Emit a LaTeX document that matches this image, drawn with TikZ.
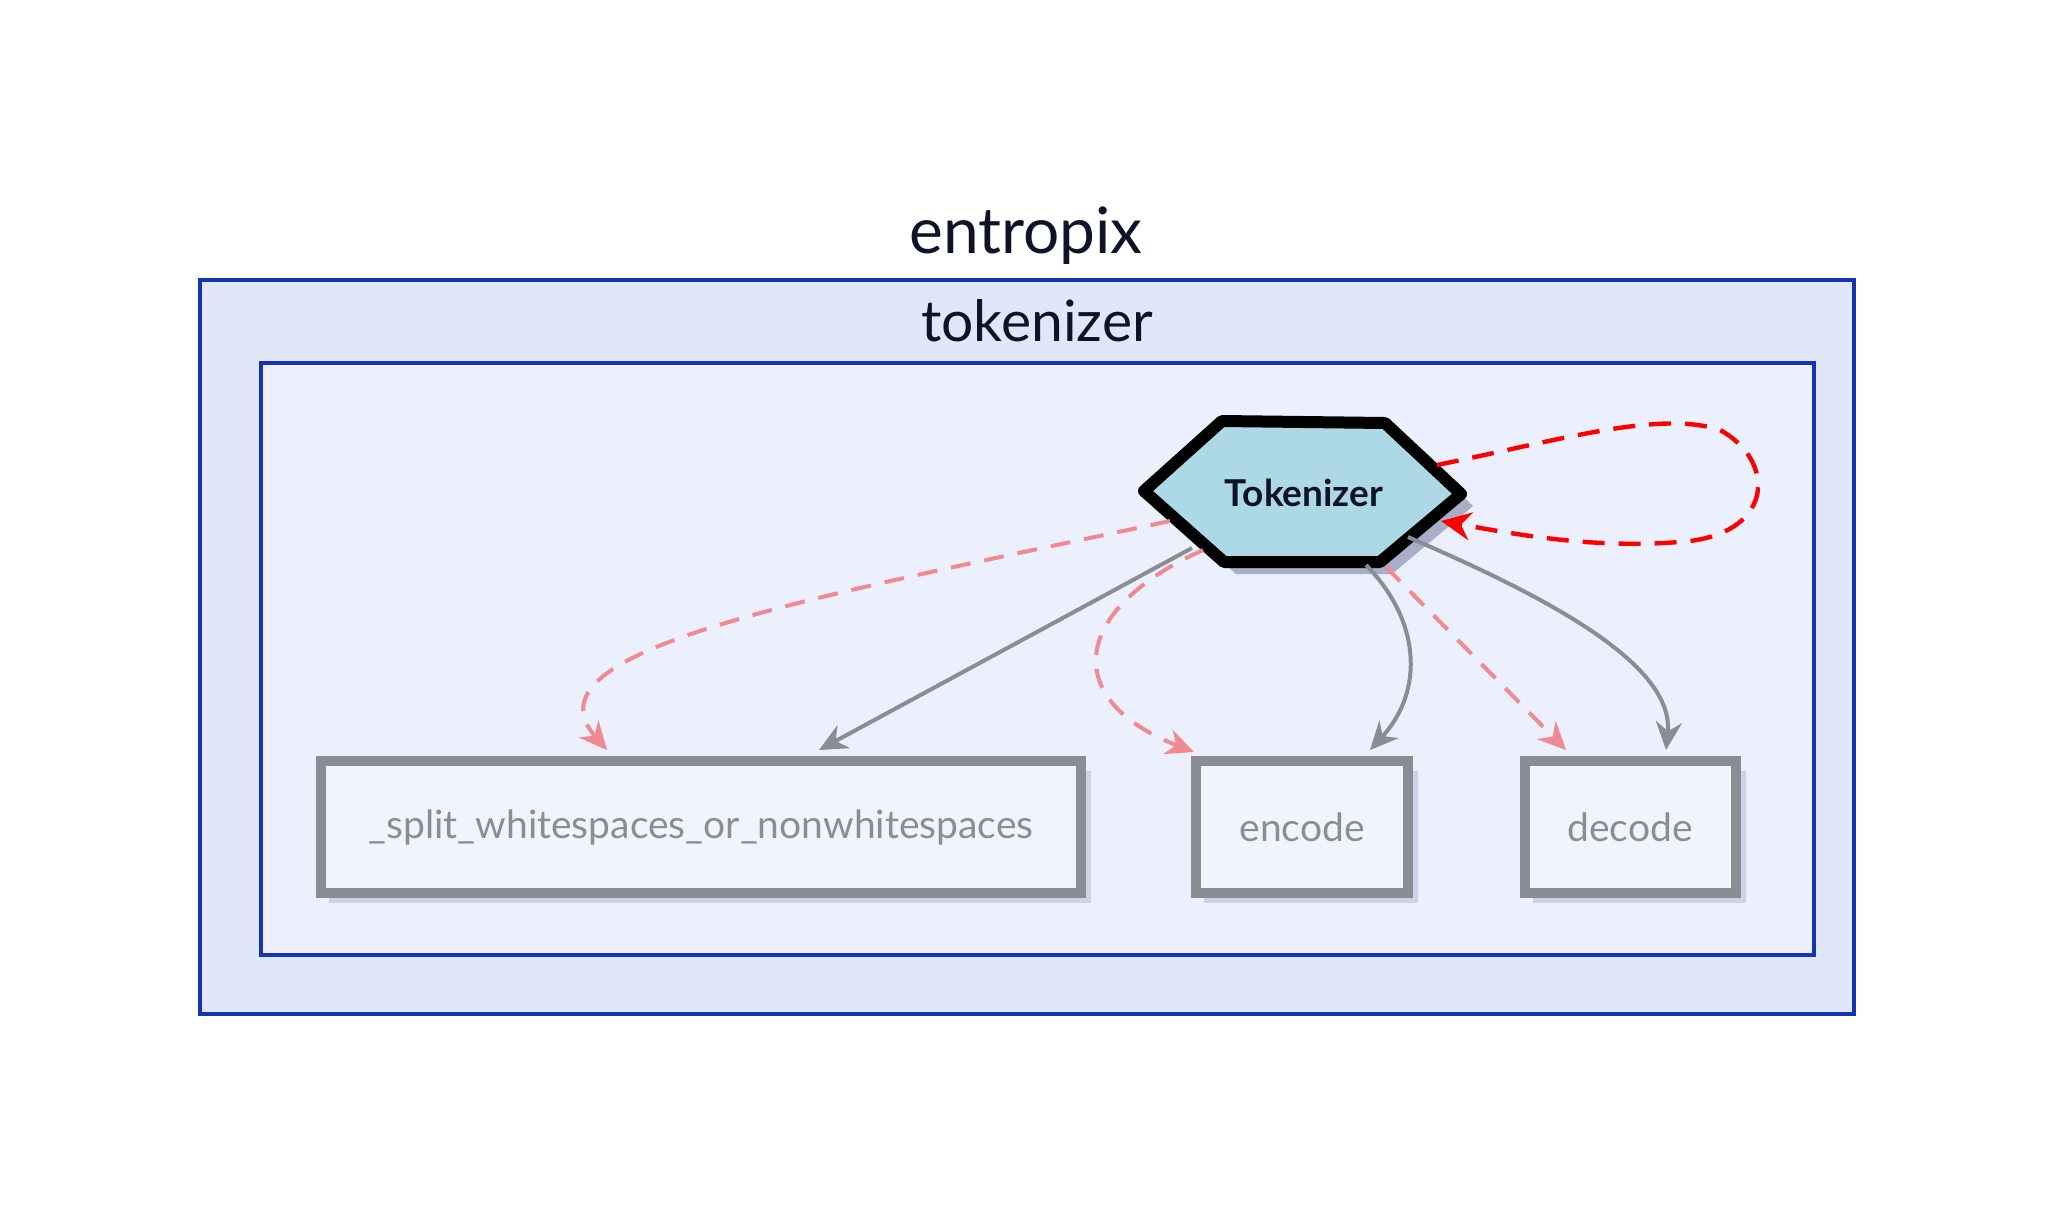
\documentclass[tikz,border=0pt]{standalone}
\usepackage{fontspec}
\setmainfont{Lato}
\usetikzlibrary{arrows.meta}
\definecolor{outerfill}{HTML}{E1E7F9}
\definecolor{innerfill}{HTML}{EBF0FC}
\definecolor{frameblue}{HTML}{1434B4}
\definecolor{hexfill}{HTML}{ADD8E6}
\definecolor{hexshadow}{HTML}{A9ADC8}
\definecolor{boxgrey}{HTML}{8A8D94}
\definecolor{boxfill}{HTML}{F1F4FD}
\definecolor{boxshadow}{HTML}{CDD2E6}
\definecolor{pinkedge}{HTML}{F08A90}
\definecolor{redloop}{HTML}{FF0000}
\definecolor{inkdark}{HTML}{0F1328}
\tikzset{
  x=0.5pt, y=-0.5pt,
  frame/.style={draw=frameblue, line width=2.3pt},
  title/.style={text=inkdark},
  funcbox/.style={draw=boxgrey, fill=boxfill, line width=5pt, text=boxgrey,
    font=\fontsize{19.5}{23}\selectfont, minimum height=66pt, inner sep=0pt},
  boxshade/.style={fill=boxshadow, draw=none},
  greyedge/.style={draw=boxgrey, line width=2pt, -{Stealth[length=14pt,width=13pt]}},
  pinkedge/.style={draw=pinkedge, line width=2pt, dash pattern=on 10pt off 7pt,
    -{Stealth[length=14pt,width=13pt]}},
  rededge/.style={draw=redloop, line width=2.2pt, dash pattern=on 11pt off 7pt,
    -{Stealth[length=15pt,width=14pt]}},
}
\begin{document}
\begin{tikzpicture}
\path[use as bounding box, fill=white] (0,0) rectangle (2054,1216);

% frames
\path[frame, fill=outerfill] (200,280) rectangle (1854,1014);
\path[frame, fill=innerfill] (261,363) rectangle (1814,955);
\node[title, font=\fontsize{32}{38}\selectfont] (entropix) at (1026,236) {entropix};
\node[title, font=\fontsize{28.5}{34}\selectfont] (tokpkg) at (1037,321) {tokenizer};

% box shadows
\fill[boxshade] (329,771) rectangle (1091,903);
\fill[boxshade] (1204,771) rectangle (1418,903);
\fill[boxshade] (1533,771) rectangle (1746,903);

% function boxes
\node[funcbox, minimum width=380pt] (split) at (701,827) {\_split\_whitespaces\_or\_nonwhitespaces};
\node[funcbox, minimum width=106pt] (encode) at (1302,827) {encode};
\node[funcbox, minimum width=105.5pt] (decode) at (1630,827) {decode};

% hexagon
\fill[hexshadow] (1156,503)--(1234,433)--(1397,435)--(1473,506)--(1392,574)--(1236,574)--cycle;
\draw[fill=hexfill, line width=6pt, line join=round] (1144,491)--(1222,421)--(1385,423)--(1461,494)--(1380,562)--(1224,562)--cycle;
\node[text=inkdark, font=\bfseries\fontsize{18.5}{22}\selectfont] (tok) at (1304,493) {Tokenizer};

% anchor points on the hexagon border
\coordinate (h1) at (1192,548);
\coordinate (h2) at (1366,565);
\coordinate (h3) at (1408,537);
\coordinate (p1) at (1170,521);
\coordinate (p2) at (1203,550);
\coordinate (p3) at (1386,567);
\coordinate (r1) at (1437,465);
\coordinate (r2) at (1441,521);

% grey solid edges
\draw[greyedge] (h1) -- ([xshift=59pt,yshift=3pt]split.north);
\draw[greyedge] (h2) .. controls (1420,620) and (1425,690) .. ([xshift=34pt,yshift=3pt]encode.north);
\draw[greyedge] (h3) .. controls (1530,590) and (1675,660) .. ([xshift=18pt,yshift=3pt]decode.north);

% pink dashed edges
\draw[pinkedge] (p1) .. controls (800,600) and (520,650) .. ([xshift=-47pt,yshift=3pt]split.north);
\draw[pinkedge] (p2) .. controls (1070,610) and (1060,700) .. ([xshift=-54pt,yshift=2pt]encode.north);
\draw[pinkedge] (p3) -- ([xshift=-32pt,yshift=3pt]decode.north);

% red self loop
\draw[rededge] (r1) .. controls (1560,440) and (1660,410) .. (1720,430)
  .. controls (1775,460) and (1775,530) .. (1690,541)
  .. controls (1600,550) and (1520,535) .. (r2);
\end{tikzpicture}
\end{document}
